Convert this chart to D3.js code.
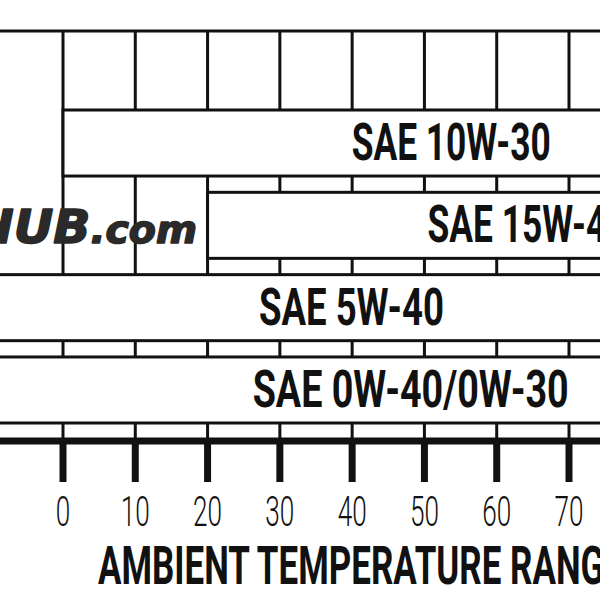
<!DOCTYPE html>
<html>
<head>
<meta charset="utf-8">
<script src="https://cdn.jsdelivr.net/npm/d3@7"></script>
<style>
  html, body { margin: 0; padding: 0; background: #fff; }
  svg { display: block; }
</style>
</head>
<body>
<svg id="chart" width="600" height="600"></svg>
<script>
// ---- data ----
const grades = ["SAE 10W-30", "SAE 15W-40", "SAE 5W-40", "SAE 0W-40/0W-30"];
const minTemp = [0, 20, -30, -30];
const maxTemp = [110, 110, 110, 110];
const labelTemp = [53.7, 64.2, 39.9, 48.1];
const tickValues = [-10, 0, 10, 20, 30, 40, 50, 60, 70, 80];
const tickLabels = ["", "0", "10", "20", "30", "40", "50", "60", "70", "80"];
const axisTitle = "AMBIENT TEMPERATURE RANGE";
const watermarkMain = "HUB";
const watermarkTail = ".com";

// ---- layout ----
const svg = d3.select("#chart");
const x = d3.scaleLinear().domain([0, 70]).range([63, 569]);
const y = d3.scaleBand().domain(grades).range([110, 423]).paddingInner(0.198).paddingOuter(0);
const gridTop = 31, axisY = 441, tickEnd = 482;
const ink = "#111";

// vertical gridlines
svg.append("g").selectAll("line").data(tickValues).join("line")
  .attr("x1", d => x(d)).attr("x2", d => x(d))
  .attr("y1", gridTop).attr("y2", axisY)
  .attr("stroke", ink).attr("stroke-width", 3);

// top frame line
svg.append("line").attr("x1", -10).attr("x2", 610)
  .attr("y1", gridTop).attr("y2", gridTop)
  .attr("stroke", ink).attr("stroke-width", 3);

// watermark
const wm = svg.append("text")
  .attr("x", 197).attr("y", 243)
  .attr("text-anchor", "end")
  .attr("font-family", "DejaVu Sans")
  .attr("font-weight", "bold")
  .attr("font-style", "italic")
  .attr("fill", "#2a2a2a")
  .attr("stroke", "#2a2a2a").attr("stroke-width", 1.6).attr("stroke-linejoin", "round")
  .attr("textLength", 224)
  .attr("lengthAdjust", "spacingAndGlyphs");
wm.append("tspan").attr("font-size", 47).text(watermarkMain);
wm.append("tspan").attr("font-size", 38).text(watermarkTail);

// bars
const data = grades.map((g, i) => ({ g, lo: minTemp[i], hi: maxTemp[i], lab: labelTemp[i] }));
const bars = svg.append("g").selectAll("g").data(data).join("g");
bars.append("rect")
  .attr("x", d => x(d.lo)).attr("width", d => x(d.hi) - x(d.lo))
  .attr("y", d => y(d.g)).attr("height", y.bandwidth())
  .attr("fill", "#fff").attr("stroke", ink).attr("stroke-width", 3);

// approximate glyph advance widths of the condensed display face
const glyphW = c => c === "W" ? 29 : c === "1" ? 14 : c === " " ? 10 : c === "-" ? 14 : c === "/" ? 22 : 22;
const labelWidth = s => Array.from(s).reduce((a, c) => a + glyphW(c), 0);
bars.append("text")
  .attr("x", d => x(d.lab))
  .attr("y", d => y(d.g) + y.bandwidth() / 2 + 17)
  .attr("text-anchor", "middle")
  .attr("font-family", "Roboto, 'DejaVu Sans', sans-serif")
  .attr("font-weight", "bold")
  .attr("font-size", 52)
  .attr("textLength", d => labelWidth(d.g))
  .attr("lengthAdjust", "spacingAndGlyphs")
  .attr("fill", ink)
  .text(d => d.g);

// axis line
svg.append("line").attr("x1", -10).attr("x2", 610)
  .attr("y1", axisY).attr("y2", axisY)
  .attr("stroke", ink).attr("stroke-width", 7);

// ticks
svg.append("g").selectAll("line").data(tickValues).join("line")
  .attr("x1", d => x(d)).attr("x2", d => x(d))
  .attr("y1", axisY).attr("y2", tickEnd)
  .attr("stroke", ink).attr("stroke-width", 7);

// tick labels
svg.append("g").selectAll("text").data(tickValues.map((v, i) => ({ v, t: tickLabels[i] })).filter(d => d.t))
  .join("text")
  .attr("x", d => x(d.v)).attr("y", 526)
  .attr("text-anchor", "middle")
  .attr("font-family", "Roboto, 'DejaVu Sans', sans-serif")
  .attr("font-weight", 300)
  .attr("font-size", 43)
  .attr("textLength", d => d.t.length * 14.5)
  .attr("lengthAdjust", "spacingAndGlyphs")
  .attr("fill", ink)
  .text(d => d.t);

// axis title
svg.append("text")
  .attr("x", 98).attr("y", 584)
  .attr("font-family", "Roboto, 'DejaVu Sans', sans-serif")
  .attr("font-weight", "bold")
  .attr("font-size", 54)
  .attr("textLength", 526)
  .attr("lengthAdjust", "spacingAndGlyphs")
  .attr("fill", ink)
  .text(axisTitle);
</script>
</body>
</html>
